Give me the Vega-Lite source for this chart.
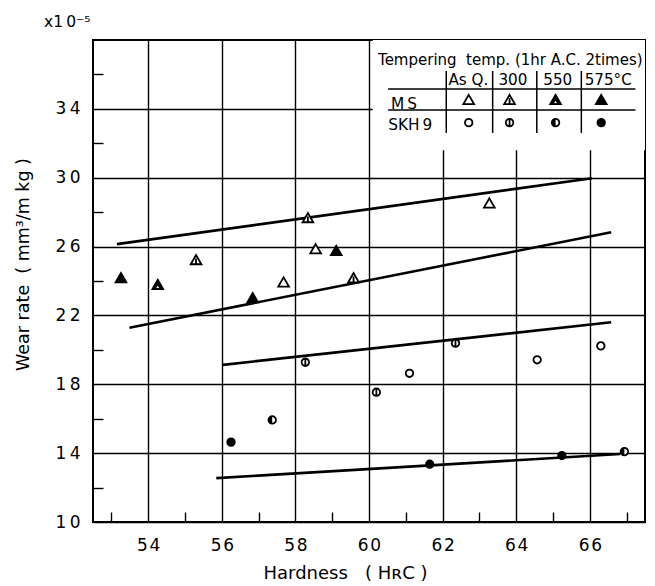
{
  "$schema": "https://vega.github.io/schema/vega-lite/v6.json",
  "width": 552,
  "height": 482,
  "autosize": "none",
  "padding": {"left": 93, "top": 40, "right": 10, "bottom": 64},
  "background": "white",
  "datasets": {
    "box": [{"hardness": 60.1, "hardness2": 67.5, "rate": 31.6, "rate2": 38}],
    "tablelines": [
      {"hardness": 62.10, "hardness2": 62.10, "rate": 36.2, "rate2": 32.6},
      {"hardness": 63.36, "hardness2": 63.36, "rate": 36.2, "rate2": 32.6},
      {"hardness": 64.56, "hardness2": 64.56, "rate": 36.2, "rate2": 32.6},
      {"hardness": 65.77, "hardness2": 65.77, "rate": 36.2, "rate2": 32.6},
      {"hardness": 60.52, "hardness2": 67.24, "rate": 35.15, "rate2": 35.15},
      {"hardness": 60.52, "hardness2": 67.24, "rate": 33.94, "rate2": 33.94}
    ],
    "fits": [
      {"fit": "MS upper", "hardness": 53.15, "rate": 26.14},
      {"fit": "MS upper", "hardness": 66.06, "rate": 29.97},
      {"fit": "MS lower", "hardness": 53.49, "rate": 21.29},
      {"fit": "MS lower", "hardness": 66.58, "rate": 26.83},
      {"fit": "SKH9 upper", "hardness": 56.03, "rate": 19.13},
      {"fit": "SKH9 upper", "hardness": 66.58, "rate": 21.60},
      {"fit": "SKH9 lower", "hardness": 55.85, "rate": 12.55},
      {"fit": "SKH9 lower", "hardness": 66.83, "rate": 13.95}
    ],
    "symbols": [
      {"role": "data", "steel": "MS", "temp": "575", "hardness": 53.26, "rate": 24.12},
      {"role": "data", "steel": "MS", "temp": "575", "hardness": 56.84, "rate": 22.96},
      {"role": "data", "steel": "MS", "temp": "575", "hardness": 59.11, "rate": 25.70},
      {"role": "data", "steel": "MS", "temp": "550", "hardness": 54.26, "rate": 23.73},
      {"role": "data", "steel": "MS", "temp": "300", "hardness": 55.30, "rate": 25.17},
      {"role": "data", "steel": "MS", "temp": "300", "hardness": 58.34, "rate": 27.61},
      {"role": "data", "steel": "MS", "temp": "300", "hardness": 59.58, "rate": 24.12},
      {"role": "data", "steel": "MS", "temp": "As Q.", "hardness": 57.68, "rate": 23.87},
      {"role": "data", "steel": "MS", "temp": "As Q.", "hardness": 58.55, "rate": 25.80},
      {"role": "data", "steel": "MS", "temp": "As Q.", "hardness": 63.27, "rate": 28.46},
      {"role": "data", "steel": "SKH9", "temp": "300", "hardness": 58.27, "rate": 19.28},
      {"role": "data", "steel": "SKH9", "temp": "300", "hardness": 62.35, "rate": 20.39},
      {"role": "data", "steel": "SKH9", "temp": "300", "hardness": 60.20, "rate": 17.54},
      {"role": "data", "steel": "SKH9", "temp": "As Q.", "hardness": 61.10, "rate": 18.64},
      {"role": "data", "steel": "SKH9", "temp": "As Q.", "hardness": 64.57, "rate": 19.42},
      {"role": "data", "steel": "SKH9", "temp": "As Q.", "hardness": 66.30, "rate": 20.23},
      {"role": "data", "steel": "SKH9", "temp": "550", "hardness": 57.37, "rate": 15.93},
      {"role": "data", "steel": "SKH9", "temp": "550", "hardness": 66.94, "rate": 14.09},
      {"role": "data", "steel": "SKH9", "temp": "575", "hardness": 56.25, "rate": 14.64},
      {"role": "data", "steel": "SKH9", "temp": "575", "hardness": 61.65, "rate": 13.36},
      {"role": "data", "steel": "SKH9", "temp": "575", "hardness": 65.24, "rate": 13.86},
      {"role": "key", "steel": "MS", "temp": "As Q.", "hardness": 62.71, "rate": 34.47},
      {"role": "key", "steel": "MS", "temp": "300", "hardness": 63.82, "rate": 34.47},
      {"role": "key", "steel": "MS", "temp": "550", "hardness": 65.07, "rate": 34.47},
      {"role": "key", "steel": "MS", "temp": "575", "hardness": 66.31, "rate": 34.47},
      {"role": "key", "steel": "SKH9", "temp": "As Q.", "hardness": 62.71, "rate": 33.20},
      {"role": "key", "steel": "SKH9", "temp": "300", "hardness": 63.82, "rate": 33.20},
      {"role": "key", "steel": "SKH9", "temp": "550", "hardness": 65.07, "rate": 33.20},
      {"role": "key", "steel": "SKH9", "temp": "575", "hardness": 66.31, "rate": 33.20}
    ],
    "texts": [
      {"text": "Tempering\u00A0\u00A0temp. (1hr A.C. 2times)", "kind": "title", "hardness": 63.84, "rate": 36.84},
      {"text": "As Q.", "kind": "head", "hardness": 62.70, "rate": 35.68},
      {"text": "300", "kind": "head", "hardness": 63.91, "rate": 35.68},
      {"text": "550", "kind": "head", "hardness": 65.13, "rate": 35.68},
      {"text": "575°C", "kind": "head", "hardness": 66.50, "rate": 35.68},
      {"text": "M\u2009S", "kind": "row", "hardness": 60.95, "rate": 34.28},
      {"text": "SKH\u20099", "kind": "row", "hardness": 61.12, "rate": 33.06},
      {"text": "x1\u20090\u207B\u2075", "kind": "unit", "hardness": 51.8, "rate": 39.05}
    ]
  },
  "layer": [
    {
      "data": {"name": "box"},
      "mark": {"type": "rect", "fill": "white", "strokeWidth": 0},
      "encoding": {
        "x": {
          "field": "hardness", "type": "quantitative",
          "scale": {"domain": [52.5, 67.5], "nice": false, "zero": false},
          "axis": {
            "orient": "bottom",
            "values": [54, 56, 58, 60, 62, 64, 66],
            "domain": false,
            "grid": true,
            "gridColor": "black",
            "gridWidth": 1.4,
            "gridOpacity": 1,
            "ticks": false,
            "labelExpr": "substring(datum.label, 0, 1) + '\u200A' + substring(datum.label, 1)",
            "labelFont": "DejaVu Sans",
            "labelFontSize": 17,
            "labelColor": "black",
            "labelPadding": 15,
            "labelBaseline": "top",
            "labelOverlap": false,
            "labelFlush": false,
            "title": "Hardness\u00A0\u00A0\u00A0(\u00A0H\u0280C\u00A0)",
            "titleFont": "DejaVu Sans",
            "titleFontSize": 18,
            "titleFontWeight": "normal",
            "titleColor": "black",
            "titleX": 252,
            "titleY": 51,
            "titleBaseline": "middle",
            "titleAlign": "center"
          }
        },
        "x2": {"field": "hardness2"},
        "y": {
          "field": "rate", "type": "quantitative",
          "scale": {"domain": [10, 38], "nice": false, "zero": false},
          "axis": {
            "orient": "left",
            "values": [10, 14, 18, 22, 26, 30, 34],
            "domain": false,
            "grid": true,
            "gridColor": "black",
            "gridWidth": 1.4,
            "gridOpacity": 1,
            "ticks": false,
            "labelExpr": "substring(datum.label, 0, 1) + '\u2009' + substring(datum.label, 1)",
            "labelFont": "DejaVu Sans",
            "labelFontSize": 17,
            "labelColor": "black",
            "labelPadding": 13,
            "labelOverlap": false,
            "labelFlush": false,
            "title": "Wear rate\u00A0\u00A0(\u00A0mm\u00B3/m kg\u00A0)",
            "titleFont": "DejaVu Sans",
            "titleFontSize": 17.5,
            "titleFontWeight": "normal",
            "titleColor": "black",
            "titleAngle": -90,
            "titleX": -70,
            "titleY": 224,
            "titleBaseline": "middle",
            "titleAlign": "center"
          }
        },
        "y2": {"field": "rate2"}
      }
    },
    {
      "data": {"name": "tablelines"},
      "mark": {"type": "rule", "color": "black", "strokeWidth": 1.5},
      "encoding": {
        "x": {
          "field": "hardness", "type": "quantitative",
          "scale": {"domain": [52.5, 67.5], "nice": false, "zero": false},
          "axis": {
            "orient": "bottom",
            "values": [53, 55, 57, 59, 61, 63, 65, 67],
            "domain": false,
            "grid": false,
            "labels": false,
            "ticks": true,
            "tickSize": -10,
            "tickColor": "black",
            "tickWidth": 1.4,
            "title": null
          }
        },
        "x2": {"field": "hardness2"},
        "y": {
          "field": "rate", "type": "quantitative",
          "scale": {"domain": [10, 38], "nice": false, "zero": false},
          "axis": {
            "orient": "left",
            "values": [12, 16, 20, 24, 28, 32, 36],
            "domain": false,
            "grid": false,
            "labels": false,
            "ticks": true,
            "tickSize": -10,
            "tickColor": "black",
            "tickWidth": 1.4,
            "title": null
          }
        },
        "y2": {"field": "rate2"}
      }
    },
    {
      "data": {"name": "fits"},
      "mark": {"type": "line", "color": "black", "strokeWidth": 2.6},
      "encoding": {
        "x": {"field": "hardness", "type": "quantitative", "scale": {"domain": [52.5, 67.5], "nice": false, "zero": false}, "axis": null},
        "y": {"field": "rate", "type": "quantitative", "scale": {"domain": [10, 38], "nice": false, "zero": false}, "axis": null},
        "detail": {"field": "fit", "type": "nominal"}
      }
    },
    {
      "data": {"name": "symbols"},
      "transform": [{"calculate": "datum.steel + ' ' + datum.temp", "as": "sym"}],
      "mark": {"type": "point", "filled": true, "fill": "white", "stroke": "black", "strokeWidth": 1.8, "opacity": 1},
      "encoding": {
        "x": {"field": "hardness", "type": "quantitative", "scale": {"domain": [52.5, 67.5], "nice": false, "zero": false}, "axis": null},
        "y": {"field": "rate", "type": "quantitative", "scale": {"domain": [10, 38], "nice": false, "zero": false}, "axis": null},
        "shape": {
          "field": "sym", "type": "nominal", "legend": null,
          "scale": {
            "domain": ["MS As Q.", "MS 300", "MS 550", "MS 575", "SKH9 As Q.", "SKH9 300", "SKH9 550", "SKH9 575"],
            "range": [
              "M0,-1.1L1,0.63L-1,0.63Z",
              "M0,-1.1L1,0.63L-1,0.63Z M0,-0.45L0,0.63",
              "M0,-1.1L1,0.63L-1,0.63Z",
              "M0,-1.1L1,0.63L-1,0.63Z",
              "M-1,0A1,1,0,1,1,1,0A1,1,0,1,1,-1,0Z",
              "M-1,0A1,1,0,1,1,1,0A1,1,0,1,1,-1,0Z M0,-1L0,1",
              "M-1,0A1,1,0,1,1,1,0A1,1,0,1,1,-1,0Z",
              "M-1,0A1,1,0,1,1,1,0A1,1,0,1,1,-1,0Z"
            ]
          }
        },
        "size": {"field": "steel", "type": "nominal", "legend": null, "scale": {"domain": ["MS", "SKH9"], "range": [115, 56]}}
      }
    },
    {
      "data": {"name": "symbols"},
      "transform": [
        {"filter": "datum.temp === '550' || datum.temp === '575'"},
        {"calculate": "datum.steel + ' ' + datum.temp", "as": "sym"}
      ],
      "mark": {"type": "point", "filled": true, "color": "black", "strokeWidth": 0, "opacity": 1},
      "encoding": {
        "x": {"field": "hardness", "type": "quantitative", "scale": {"domain": [52.5, 67.5], "nice": false, "zero": false}, "axis": null},
        "y": {"field": "rate", "type": "quantitative", "scale": {"domain": [10, 38], "nice": false, "zero": false}, "axis": null},
        "shape": {
          "field": "sym", "type": "nominal", "legend": null,
          "scale": {
            "domain": ["MS 550", "MS 575", "SKH9 550", "SKH9 575"],
            "range": [
              "M0,-1.1L1,0.63L-1,0.63Z M-0.3,0.5L0.3,0.5L0,0Z",
              "M0,-1.1L1,0.63L-1,0.63Z",
              "M0,-1A1,1,0,0,0,0,1Z",
              "M-1,0A1,1,0,1,1,1,0A1,1,0,1,1,-1,0Z"
            ]
          }
        },
        "size": {"field": "steel", "type": "nominal", "legend": null, "scale": {"domain": ["MS", "SKH9"], "range": [115, 56]}}
      }
    },
    {
      "data": {"name": "texts"},
      "mark": {"type": "text", "font": "DejaVu Sans", "color": "black", "align": "center", "baseline": "middle"},
      "encoding": {
        "x": {"field": "hardness", "type": "quantitative", "scale": {"domain": [52.5, 67.5], "nice": false, "zero": false}, "axis": null},
        "y": {"field": "rate", "type": "quantitative", "scale": {"domain": [10, 38], "nice": false, "zero": false}, "axis": null},
        "text": {"field": "text", "type": "nominal"},
        "size": {"field": "kind", "type": "nominal", "legend": null, "scale": {"domain": ["title", "head", "row", "unit"], "range": [15, 15.5, 16, 17]}}
      }
    }
  ],
  "resolve": {
    "scale": {"shape": "independent", "size": "independent"},
    "axis": {"x": "independent", "y": "independent"}
  },
  "config": {
    "font": "DejaVu Sans",
    "view": {"stroke": "black", "strokeWidth": 2}
  }
}
